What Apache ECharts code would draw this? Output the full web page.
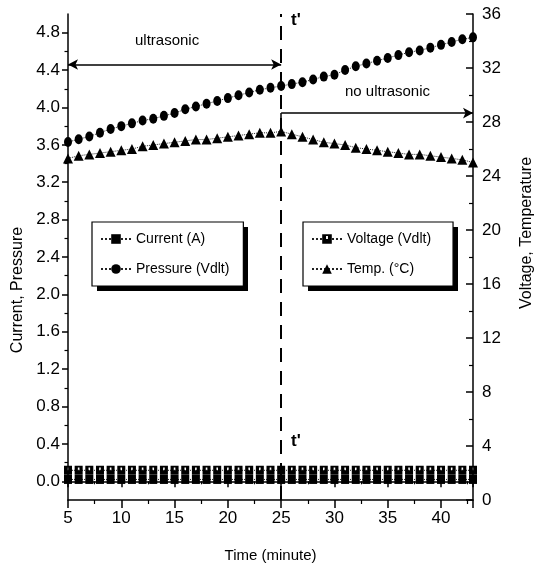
<!DOCTYPE html>
<html>
<head>
<meta charset="utf-8">
<script src="https://cdn.jsdelivr.net/npm/echarts@6/dist/echarts.min.js"></script>
<style>
  html, body { margin: 0; padding: 0; background: #fff; }
  #chart { width: 543px; height: 575px; }
</style>
</head>
<body>
<div id="chart"></div>
<script>
// time axis (minutes)
const minutes = [5, 6, 7, 8, 9, 10, 11, 12, 13, 14, 15, 16, 17, 18, 19, 20, 21, 22, 23, 24,
  25, 26, 27, 28, 29, 30, 31, 32, 33, 34, 35, 36, 37, 38, 39, 40, 41, 42, 43];

// left axis series
const current = [0.02, 0.02, 0.02, 0.02, 0.02, 0.02, 0.02, 0.02, 0.02, 0.02, 0.02, 0.02, 0.02,
  0.02, 0.02, 0.02, 0.02, 0.02, 0.02, 0.02, 0.02, 0.02, 0.02, 0.02, 0.02, 0.02, 0.02, 0.02,
  0.02, 0.02, 0.02, 0.02, 0.02, 0.02, 0.02, 0.02, 0.02, 0.02, 0.02];
const pressure = [3.63, 3.66, 3.69, 3.73, 3.77, 3.80, 3.83, 3.86, 3.88, 3.91, 3.94, 3.98, 4.01,
  4.04, 4.07, 4.10, 4.13, 4.16, 4.19, 4.21, 4.23, 4.25, 4.27, 4.30, 4.33, 4.35, 4.40, 4.44,
  4.47, 4.50, 4.53, 4.56, 4.59, 4.61, 4.64, 4.67, 4.70, 4.73, 4.75];

// right axis series
const voltage = [2.2, 2.2, 2.2, 2.2, 2.2, 2.2, 2.2, 2.2, 2.2, 2.2, 2.2, 2.2, 2.2, 2.2, 2.2,
  2.2, 2.2, 2.2, 2.2, 2.2, 2.2, 2.2, 2.2, 2.2, 2.2, 2.2, 2.2, 2.2, 2.2, 2.2, 2.2, 2.2, 2.2,
  2.2, 2.2, 2.2, 2.2, 2.2, 2.2];
const temperature = [25.3, 25.5, 25.6, 25.7, 25.8, 25.9, 26.0, 26.2, 26.3, 26.4, 26.5, 26.6,
  26.7, 26.7, 26.8, 26.9, 27.0, 27.1, 27.2, 27.2, 27.3, 27.1, 26.9, 26.7, 26.5, 26.4, 26.3,
  26.1, 26.0, 25.9, 25.8, 25.7, 25.6, 25.6, 25.5, 25.4, 25.3, 25.2, 25.0];

// left axis tick labels
const leftTicks = [0, 0.4, 0.8, 1.2, 1.6, 2.0, 2.4, 2.8, 3.2, 3.6, 4.0, 4.4, 4.8];
const leftMinorTicks = [0.2, 0.6, 1.0, 1.4, 1.8, 2.2, 2.6, 3.0, 3.4, 3.8, 4.2, 4.6];

const FONT = 'Liberation Sans, Arial, sans-serif';
const pairs = (ys) => minutes.map((m, i) => [m, ys[i]]);

const myChart = echarts.init(document.getElementById('chart'));

const lineBase = {
  type: 'line',
  showSymbol: true,
  animation: false,
  lineStyle: { color: '#222', width: 1, type: 'dotted' },
  itemStyle: { color: '#000' }
};

const legendBase = {
  orient: 'vertical', top: 222, z: 5,
  itemWidth: 30, itemHeight: 12, itemGap: 16,
  backgroundColor: '#fff', borderColor: '#000', borderWidth: 1.2,
  textStyle: { fontSize: 14, fontFamily: FONT, color: '#000' },
  selectedMode: false
};

const option = {
  backgroundColor: '#fff',
  textStyle: { fontFamily: FONT, color: '#000' },
  grid: { left: 68, right: 62, top: 14, bottom: 75 },
  legend: [
    Object.assign({}, legendBase, {
      data: ['Current (A)', 'Pressure (Vdlt)'],
      left: 92, padding: [10, 14, 10, 8]
    }),
    Object.assign({}, legendBase, {
      data: ['Voltage (Vdlt)', 'Temp. (°C)'],
      left: 303, padding: [10, 22, 10, 8]
    })
  ],
  xAxis: [
    {
      type: 'value', min: 5, max: 43, interval: 5,
      name: 'Time (minute)', nameLocation: 'middle', nameGap: 48,
      nameTextStyle: { fontSize: 15, fontFamily: FONT, color: '#000' },
      axisLine: { show: true, lineStyle: { color: '#000', width: 1.5 } },
      axisTick: { show: true, length: 6, lineStyle: { color: '#000', width: 1.5 } },
      minorTick: { show: true, splitNumber: 2, length: 3, lineStyle: { color: '#000', width: 1.2 } },
      axisLabel: { fontSize: 17, margin: 10, color: '#000', fontFamily: FONT, showMaxLabel: false },
      splitLine: { show: false }
    },
    {
      type: 'value', min: 5, max: 43, interval: 5, position: 'top',
      axisLine: { show: true, lineStyle: { color: '#000', width: 1.5 } },
      axisTick: { show: true, inside: true, length: 8, lineStyle: { color: '#000', width: 1.5 } },
      minorTick: { show: true, splitNumber: 2, length: 4, lineStyle: { color: '#000', width: 1.2 } },
      axisLabel: { show: false },
      splitLine: { show: false }
    }
  ],
  yAxis: [
    {
      type: 'value', position: 'left', min: -0.2, max: 5.0,
      name: 'Current, Pressure', nameLocation: 'middle', nameGap: 40, nameRotate: 90,
      nameTextStyle: { fontSize: 16, fontFamily: FONT, color: '#000', padding: [0, 66, 0, 0] },
      axisLine: { show: true, lineStyle: { color: '#000', width: 1.5 } },
      axisTick: { show: true, customValues: leftTicks, length: 6, lineStyle: { color: '#000', width: 1.5 } },
      axisLabel: {
        customValues: leftTicks, fontSize: 17, margin: 8, color: '#000', fontFamily: FONT,
        formatter: (v) => v.toFixed(1)
      },
      splitLine: { show: false }
    },
    {
      type: 'value', position: 'right', min: 0, max: 36, interval: 4,
      name: 'Voltage, Temperature', nameLocation: 'middle', nameGap: 46, nameRotate: 90,
      nameTextStyle: { fontSize: 16, fontFamily: FONT, color: '#000', padding: [0, 0, 0, 48] },
      axisLine: { show: true, lineStyle: { color: '#000', width: 1.5 } },
      axisTick: { show: true, inside: true, length: 7, lineStyle: { color: '#000', width: 1.5 } },
      minorTick: { show: true, splitNumber: 2, length: 4, lineStyle: { color: '#000', width: 1.2 } },
      axisLabel: { fontSize: 17, margin: 9, color: '#000', fontFamily: FONT },
      splitLine: { show: false }
    },
    {
      // minor ticks for the left axis
      type: 'value', position: 'left', min: -0.2, max: 5.0,
      axisLine: { show: false },
      axisTick: { show: true, customValues: leftMinorTicks, length: 3.5, lineStyle: { color: '#000', width: 1.2 } },
      axisLabel: { show: false },
      splitLine: { show: false }
    }
  ],
  series: [
    Object.assign({}, lineBase, {
      name: 'Current (A)', yAxisIndex: 0, data: pairs(current),
      symbol: 'rect', symbolSize: [8, 9], z: 3
    }),
    Object.assign({}, lineBase, {
      name: 'Pressure (Vdlt)', yAxisIndex: 0, data: pairs(pressure),
      symbol: 'circle', symbolSize: [8, 10],
      markLine: {
        silent: true, animation: false, symbol: ['none', 'none'],
        label: { show: false },
        lineStyle: { color: '#000', width: 1.5, type: 'solid' },
        data: [
          [{ coord: [5, 4.46], symbol: 'arrow', symbolSize: [8, 10] },
           { coord: [25, 4.46], symbol: 'arrow', symbolSize: [8, 10] }],
          [{ coord: [25, 3.94], symbol: 'none' },
           { coord: [43, 3.94], symbol: 'arrow', symbolSize: [8, 10] }],
          [{ coord: [25, 3.94], symbol: 'none' }, { coord: [25, 3.78], symbol: 'none' }]
        ]
      }
    }),
    Object.assign({}, lineBase, {
      name: 'Voltage (Vdlt)', yAxisIndex: 1, data: pairs(voltage),
      symbol: 'path://M0,0H10V10H0Z M4,2V5H6V2Z', symbolSize: [8, 9], z: 4
    }),
    Object.assign({}, lineBase, {
      name: 'Temp. (°C)', yAxisIndex: 1, data: pairs(temperature),
      symbol: 'triangle', symbolSize: [10, 10],
      markLine: {
        silent: true, animation: false, symbol: ['none', 'none'],
        label: { show: false },
        lineStyle: { color: '#000', width: 2, type: [14, 9] },
        data: [{ xAxis: 25 }]
      }
    })
  ],
  graphic: [
    // drop shadows behind the two legend boxes
    { type: 'rect', z: 1, shape: { x: 97, y: 227, width: 151, height: 64 }, style: { fill: '#000' } },
    { type: 'rect', z: 1, shape: { x: 308, y: 227, width: 150, height: 64 }, style: { fill: '#000' } },
    { type: 'text', left: 135, top: 33, style: { text: 'ultrasonic', font: '15px ' + FONT, fill: '#000' } },
    { type: 'text', left: 345, top: 84, style: { text: 'no ultrasonic', font: '15px ' + FONT, fill: '#000' } },
    { type: 'text', left: 291, top: 12, style: { text: "t'", font: 'bold 17px ' + FONT, fill: '#000' } },
    { type: 'text', left: 291, top: 433, style: { text: "t'", font: 'bold 17px ' + FONT, fill: '#000' } }
  ]
};

myChart.setOption(option);
window.addEventListener('resize', function () {
  myChart.resize();
});
</script>
</body>
</html>
